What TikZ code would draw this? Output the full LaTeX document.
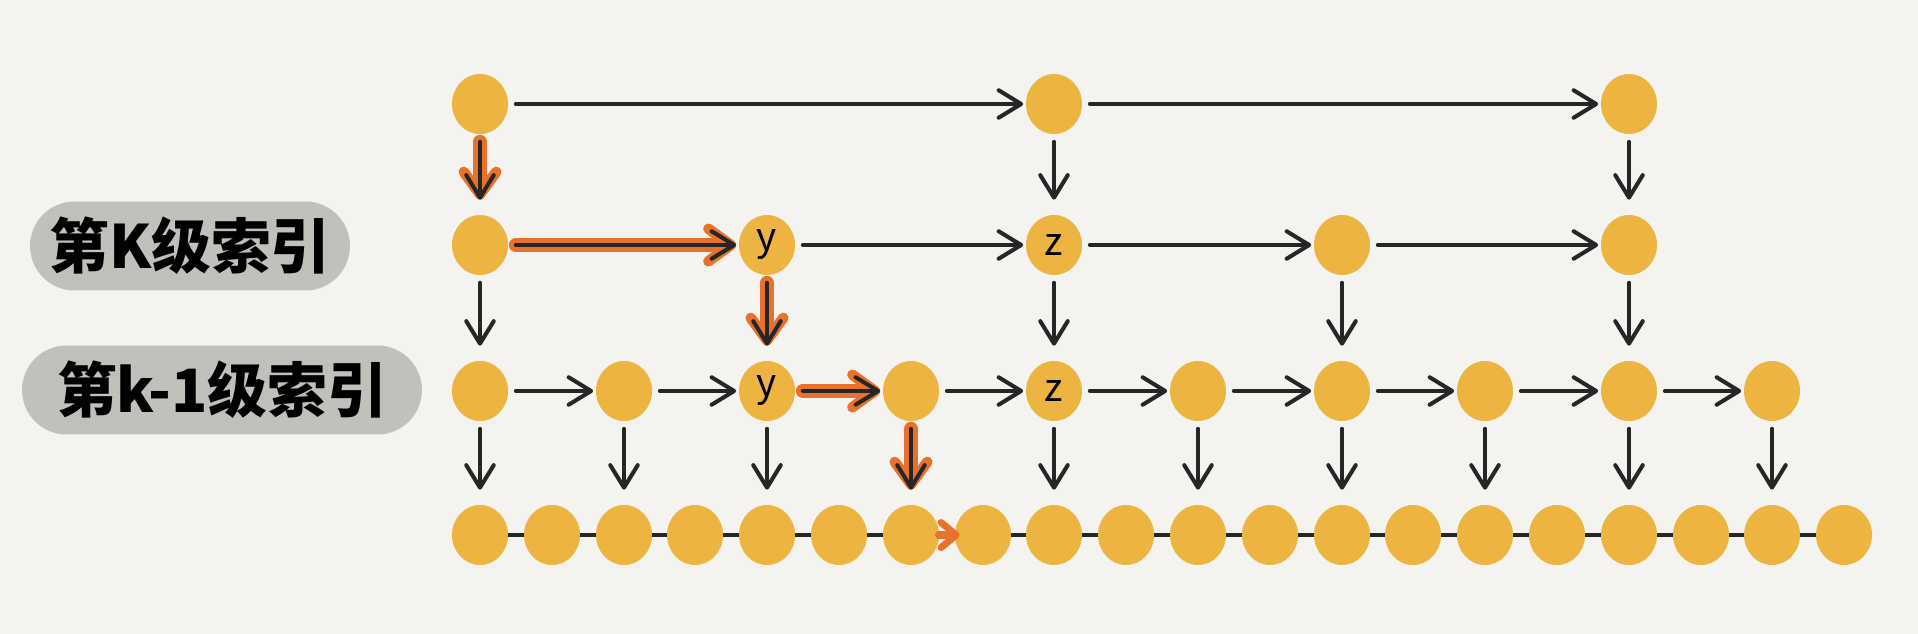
\documentclass[tikz,border=0pt]{standalone}
\usepackage{fontspec}
\usepackage{tikz}
\usetikzlibrary{arrows.meta,shapes.geometric}
\newfontfamily\cjk{Noto Sans CJK SC}

\definecolor{paper}{HTML}{F4F3EF}
\definecolor{nodeyellow}{HTML}{EDB441}
\definecolor{blobgray}{HTML}{C1C0BA}
\definecolor{pathorange}{HTML}{E8722B}

\begin{document}
\begin{tikzpicture}[x=0.02cm, y=-0.02cm,
		node_style/.style={ellipse,fill=nodeyellow,minimum width=1.12cm,minimum height=1.2cm,inner sep=0pt,font=\cjk\fontsize{22}{22}\selectfont},
		edge_style/.style={draw=black!85,line width=2.3pt,line cap=round,-{Straight Barb[length=4.5mm,width=5.5mm,line width=2.3pt,round]}},
		hedge/.style={edge_style,shorten <=0.15cm,shorten >=0.05cm},
		vedge/.style={edge_style,shorten <=0.15cm,shorten >=0.3cm},
		link_style/.style={draw=black!85,line width=2.4pt},
		path_style/.style={draw=pathorange,line width=8pt,line cap=round,-{Straight Barb[length=4.5mm,width=6.5mm,line width=6pt,round]}},
		label_style/.style={fill=blobgray,rounded corners=0.89cm,minimum height=1.78cm,inner sep=0pt,font=\cjk\bfseries\fontsize{34}{34}\selectfont}]

		\fill[paper] (0,0) rectangle (1918,634);
		\useasboundingbox (0,0) rectangle (1918,634);

		% labels
		\node[label_style,minimum width=6.4cm] (lk) at (190,246) {第K级索引};
		\node[label_style,minimum width=8cm] (lk1) at (222,390) {第k-1级索引};

		% top level
		\node[node_style] (t0) at (480,104)  {};
		\node[node_style] (t8) at (1054,104)  {};
		\node[node_style] (t16) at (1629,104)  {};

		% level k
		\node[node_style] (k0) at (480,245)  {};
		\node[node_style] (k4) at (767,245)  {y};
		\node[node_style] (k8) at (1054,245)  {z};
		\node[node_style] (k12) at (1342,245)  {};
		\node[node_style] (k16) at (1629,245)  {};

		% level k-1
		\node[node_style] (j0) at (480,391)  {};
		\node[node_style] (j2) at (624,391)  {};
		\node[node_style] (j4) at (767,391)  {y};
		\node[node_style] (j6) at (911,391)  {};
		\node[node_style] (j8) at (1054,391)  {z};
		\node[node_style] (j10) at (1198,391)  {};
		\node[node_style] (j12) at (1342,391)  {};
		\node[node_style] (j14) at (1485,391)  {};
		\node[node_style] (j16) at (1629,391)  {};
		\node[node_style] (j18) at (1772,391)  {};

		% raw list
		\node[node_style] (b0) at (480,535)  {};
		\node[node_style] (b1) at (552,535)  {};
		\node[node_style] (b2) at (624,535)  {};
		\node[node_style] (b3) at (695,535)  {};
		\node[node_style] (b4) at (767,535)  {};
		\node[node_style] (b5) at (839,535)  {};
		\node[node_style] (b6) at (911,535)  {};
		\node[node_style] (b7) at (983,535)  {};
		\node[node_style] (b8) at (1054,535)  {};
		\node[node_style] (b9) at (1126,535)  {};
		\node[node_style] (b10) at (1198,535)  {};
		\node[node_style] (b11) at (1270,535)  {};
		\node[node_style] (b12) at (1342,535)  {};
		\node[node_style] (b13) at (1413,535)  {};
		\node[node_style] (b14) at (1485,535)  {};
		\node[node_style] (b15) at (1557,535)  {};
		\node[node_style] (b16) at (1629,535)  {};
		\node[node_style] (b17) at (1701,535)  {};
		\node[node_style] (b18) at (1772,535)  {};
		\node[node_style] (b19) at (1844,535)  {};

		% search path
		\draw[path_style,shorten <=0.15cm,shorten >=0.3cm]  (t0) -- (k0);
		\draw[path_style,shorten <=0.15cm,shorten >=0.05cm]  (k0) -- (k4);
		\draw[path_style,shorten <=0.15cm,shorten >=0.3cm]  (k4) -- (j4);
		\draw[path_style,shorten <=0.15cm,shorten >=0.05cm]  (j4) -- (j6);
		\draw[path_style,shorten <=0.15cm,shorten >=0.3cm]  (j6) -- (b6);

		% bottom links
		\draw[link_style]  (b0) -- (b1);
		\draw[link_style]  (b1) -- (b2);
		\draw[link_style]  (b2) -- (b3);
		\draw[link_style]  (b3) -- (b4);
		\draw[link_style]  (b4) -- (b5);
		\draw[link_style]  (b5) -- (b6);
		\draw[path_style,line width=5pt,shorten >=-0.1cm,-{Straight Barb[length=3mm,width=5mm,line width=4pt,round]}]  (b6) -- (b7);
		\draw[link_style]  (b7) -- (b8);
		\draw[link_style]  (b8) -- (b9);
		\draw[link_style]  (b9) -- (b10);
		\draw[link_style]  (b10) -- (b11);
		\draw[link_style]  (b11) -- (b12);
		\draw[link_style]  (b12) -- (b13);
		\draw[link_style]  (b13) -- (b14);
		\draw[link_style]  (b14) -- (b15);
		\draw[link_style]  (b15) -- (b16);
		\draw[link_style]  (b16) -- (b17);
		\draw[link_style]  (b17) -- (b18);
		\draw[link_style]  (b18) -- (b19);

		% horizontal arrows
		\draw[hedge]  (t0) -- (t8);
		\draw[hedge]  (t8) -- (t16);
		\draw[hedge]  (k0) -- (k4);
		\draw[hedge]  (k4) -- (k8);
		\draw[hedge]  (k8) -- (k12);
		\draw[hedge]  (k12) -- (k16);
		\draw[hedge]  (j0) -- (j2);
		\draw[hedge]  (j2) -- (j4);
		\draw[hedge]  (j4) -- (j6);
		\draw[hedge]  (j6) -- (j8);
		\draw[hedge]  (j8) -- (j10);
		\draw[hedge]  (j10) -- (j12);
		\draw[hedge]  (j12) -- (j14);
		\draw[hedge]  (j14) -- (j16);
		\draw[hedge]  (j16) -- (j18);

		% vertical arrows
		\draw[vedge]  (t0) -- (k0);
		\draw[vedge]  (t8) -- (k8);
		\draw[vedge]  (t16) -- (k16);
		\draw[vedge]  (k0) -- (j0);
		\draw[vedge]  (k4) -- (j4);
		\draw[vedge]  (k8) -- (j8);
		\draw[vedge]  (k12) -- (j12);
		\draw[vedge]  (k16) -- (j16);
		\draw[vedge]  (j0) -- (b0);
		\draw[vedge]  (j2) -- (b2);
		\draw[vedge]  (j4) -- (b4);
		\draw[vedge]  (j6) -- (b6);
		\draw[vedge]  (j8) -- (b8);
		\draw[vedge]  (j10) -- (b10);
		\draw[vedge]  (j12) -- (b12);
		\draw[vedge]  (j14) -- (b14);
		\draw[vedge]  (j16) -- (b16);
		\draw[vedge]  (j18) -- (b18);
		\end{tikzpicture}
\end{document}
